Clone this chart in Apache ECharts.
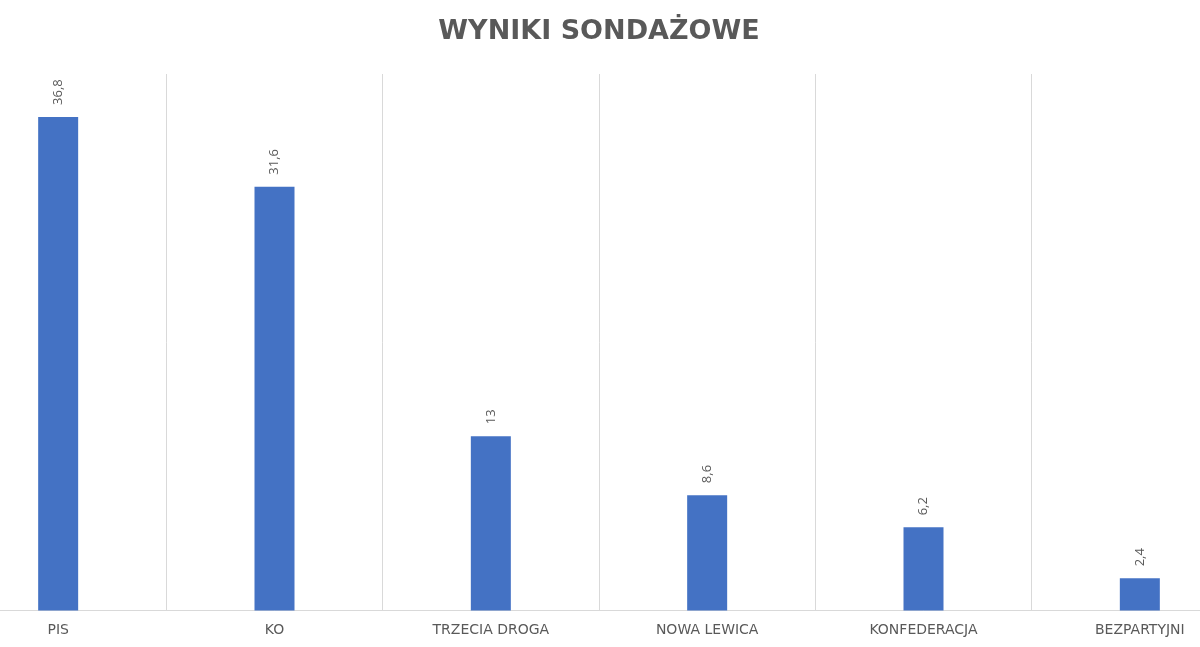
<!DOCTYPE html>
<html>
<head>
<meta charset="utf-8">
<script src="https://cdn.jsdelivr.net/npm/echarts@6/dist/echarts.min.js"></script>
<style>
  html, body { margin: 0; padding: 0; background: #ffffff; overflow: hidden; }
  /* wykres przycięty z obu stron: kontener szerszy od okna i przesunięty w lewo */
  #main { width: 1297.5px; height: 647px; margin-left: -50.5px; }
</style>
</head>
<body>
<div id="main"></div>
<script>
// dane z wykresu
const categories = ['PIS', 'KO', 'TRZECIA DROGA', 'NOWA LEWICA', 'KONFEDERACJA', 'BEZPARTYJNI']
const values = [36.8, 31.6, 13, 8.6, 6.2, 2.4]

const chart = echarts.init(document.getElementById('main'))

let option = {
  backgroundColor: '#ffffff',
  title: {
    text: 'WYNIKI SONDAŻOWE',
    left: 'center',
    top: 13,
    textStyle: {
      fontFamily: 'DejaVu Sans',
      fontWeight: 'bold',
      fontSize: 27,
      color: '#595959'
    }
  },
  grid: {
    left: 0,
    right: 0,
    top: 74,
    bottom: 36.5,
    containLabel: false
  },
  xAxis: {
    type: 'category',
    data: categories,
    boundaryGap: true,
    axisLine: { lineStyle: { color: '#d9d9d9', width: 1 } },
    axisTick: { show: false },
    splitLine: { show: true, lineStyle: { color: '#d9d9d9', width: 1 } },
    axisLabel: {
      interval: 0,
      margin: 13,
      fontFamily: 'DejaVu Sans',
      fontSize: 14,
      color: '#595959'
    }
  },
  yAxis: {
    type: 'value',
    min: 0,
    max: 40,
    show: false,
    splitLine: { show: false }
  },
  series: [
    {
      type: 'bar',
      data: values,
      barWidth: 40,
      itemStyle: { color: '#4472c4' },
      label: {
        show: true,
        position: 'top',
        distance: 12,
        rotate: 90,
        align: 'left',
        verticalAlign: 'middle',
        fontFamily: 'Open Sans',
        fontSize: 13,
        color: '#595959',
        formatter: p => String(p.value).replace('.', ',')
      }
    }
  ]
}

chart.setOption(option)
</script>
</body>
</html>
